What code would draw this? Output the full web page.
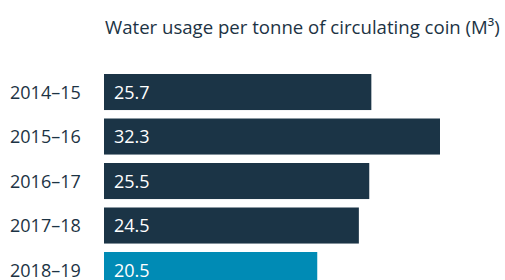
<!DOCTYPE html>
<html>
<head>
<meta charset="utf-8">
<script src="https://cdn.jsdelivr.net/npm/d3@7"></script>
<style>
  body { margin: 0; background: #fff; }
  svg { display: block; font-family: "Open Sans", sans-serif; }
</style>
</head>
<body>
<div id="chart"></div>
<script>
let width = 505;
let height = 280;
let margin = { top: 74, right: 65, bottom: 0, left: 104 };
let step = 44.5;
let pad = 0.19;

const years = ["2014–15", "2015–16", "2016–17", "2017–18", "2018–19"];
const usage = [25.7, 32.3, 25.5, 24.5, 20.5];
const title = "Water usage per tonne of circulating coin (M³)";

const data = years.map((y, i) => ({ year: y, value: usage[i] }));

const svg = d3
  .select("#chart")
  .append("svg")
  .attr("width", width)
  .attr("height", height);

const xScale = d3
  .scaleLinear()
  .domain([0, 32.3])
  .range([margin.left, width - margin.right]);

const yScale = d3
  .scaleBand()
  .domain(years)
  .range([margin.top, margin.top + step * (years.length - pad)])
  .paddingInner(pad)
  .paddingOuter(0);

// title
svg
  .append("text")
  .attr("x", 105)
  .attr("y", 34)
  .attr("font-size", 18.6)
  .attr("fill", "#1c3344")
  .text(title);

svg
  .selectAll(".bar")
  .data(data)
  .enter()
  .append("rect")
  .attr("class", "bar")
  .attr("x", xScale(0))
  .attr("y", (d) => yScale(d.year))
  .attr("width", (d) => xScale(d.value) - xScale(0))
  .attr("height", yScale.bandwidth())
  .attr("fill", (d, i) => (i === years.length - 1 ? "#008bb5" : "#1b3446"));

svg
  .selectAll(".val")
  .data(data)
  .enter()
  .append("text")
  .attr("class", "val")
  .attr("x", xScale(0) + 10)
  .attr("y", (d) => yScale(d.year) + yScale.bandwidth() / 2)
  .attr("dy", "0.36em")
  .attr("font-size", 18)
  .attr("fill", "#fff")
  .text((d) => d.value.toFixed(1));

svg
  .selectAll(".cat")
  .data(data)
  .enter()
  .append("text")
  .attr("class", "cat")
  .attr("x", 10)
  .attr("y", (d) => yScale(d.year) + yScale.bandwidth() / 2)
  .attr("dy", "0.36em")
  .attr("font-size", 18)
  .attr("fill", "#1c3344")
  .text((d) => d.year);
</script>
</body>
</html>
